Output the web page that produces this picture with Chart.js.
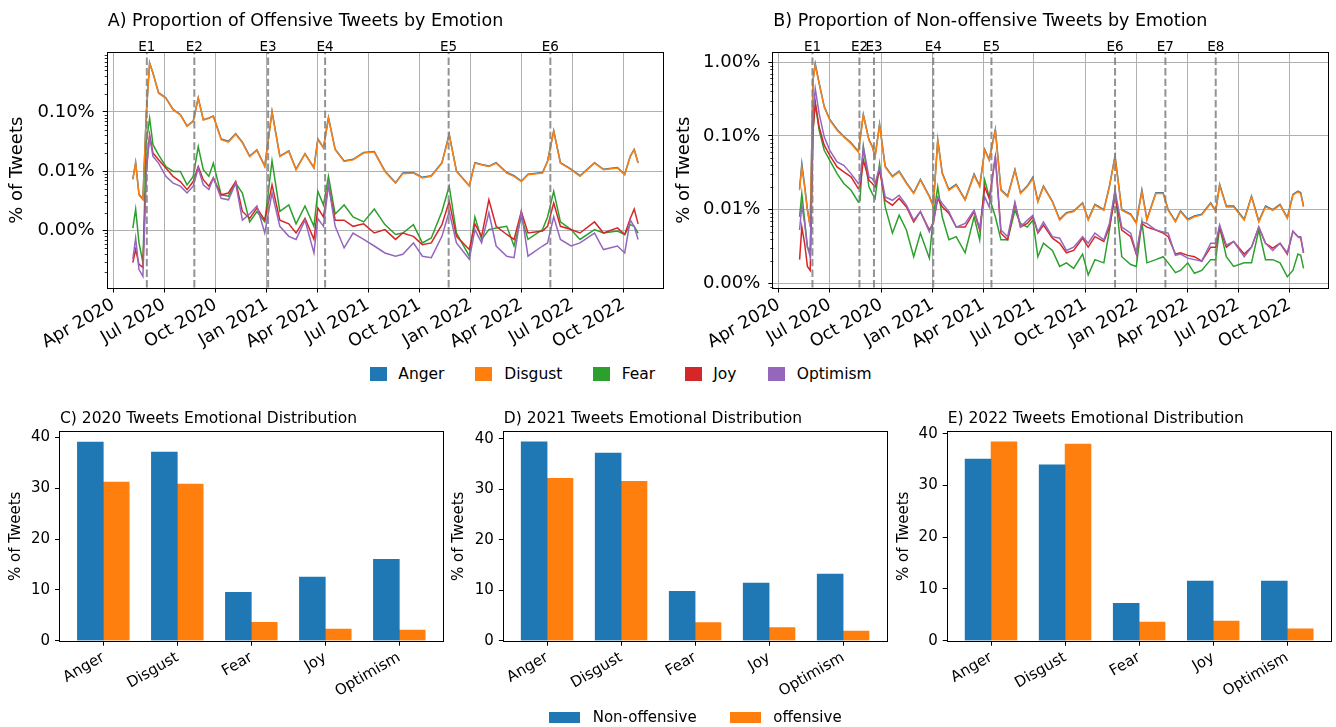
<!DOCTYPE html>
<html><head><meta charset="utf-8">
<script src="https://cdn.jsdelivr.net/npm/chart.js"></script>
<style>
html,body{margin:0;padding:0;background:#fff;}
#wrap{position:relative;width:1336px;height:727px;overflow:hidden;font-family:'DejaVu Sans',sans-serif;color:#000;background:#fff;}
canvas{position:absolute;left:0;}
.lt{position:absolute;white-space:nowrap;line-height:18px;}
.sw{position:absolute;}
</style></head><body>
<div id="wrap">
<canvas id="cA" width="1336" height="355" style="top:0px"></canvas>
<canvas id="cB" width="1336" height="355" style="top:0px"></canvas>
<canvas id="cC" width="1336" height="332" style="top:395px"></canvas>
<canvas id="cD" width="1336" height="332" style="top:395px"></canvas>
<canvas id="cE" width="1336" height="332" style="top:395px"></canvas>
<div id="legTop"></div>
<div id="legBot"></div>
</div>
<script>
// ---------- DATA ----------
const emotions = ['Anger', 'Disgust', 'Fear', 'Joy', 'Optimism'];
const emotionColors = ['#1f77b4', '#ff7f0e', '#2ca02c', '#d62728', '#9467bd'];

const xTickDates = ['2020-04-01','2020-07-01','2020-10-01','2021-01-01','2021-04-01','2021-07-01','2021-10-01','2022-01-01','2022-04-01','2022-07-01','2022-10-01'];
const xTickLabels = ['Apr 2020','Jul 2020','Oct 2020','Jan 2021','Apr 2021','Jul 2021','Oct 2021','Jan 2022','Apr 2022','Jul 2022','Oct 2022'];

const yTicksA = [0.001, 0.01, 0.1];
const yTickLabelsA = ['0.00%', '0.01%', '0.10%'];
const yTicksB = [0.001, 0.01, 0.1, 1];
const yTickLabelsB = ['0.00%', '0.01%', '0.10%', '1.00%'];

// Panel A: offensive tweets (% of tweets)
const datesA = ['2020-05-06','2020-05-11','2020-05-17','2020-05-24','2020-05-30','2020-06-05','2020-06-11','2020-06-21','2020-07-04','2020-07-17','2020-07-30','2020-08-11','2020-08-22','2020-08-31','2020-09-09','2020-09-19','2020-09-27','2020-10-11','2020-10-24','2020-11-06','2020-11-18','2020-12-01','2020-12-14','2020-12-28','2021-01-10','2021-01-24','2021-02-09','2021-02-22','2021-03-10','2021-03-26','2021-04-02','2021-04-12','2021-04-21','2021-05-03','2021-05-19','2021-06-04','2021-06-23','2021-07-12','2021-07-31','2021-08-19','2021-09-01','2021-09-20','2021-10-06','2021-10-22','2021-11-10','2021-11-23','2021-12-06','2021-12-29','2022-01-08','2022-01-20','2022-02-02','2022-02-15','2022-03-06','2022-03-19','2022-04-01','2022-04-13','2022-05-09','2022-05-18','2022-05-29','2022-06-10','2022-06-29','2022-07-15','2022-08-10','2022-08-26','2022-09-20','2022-10-03','2022-10-13','2022-10-20','2022-10-27'];
const angerOffA = [0.0074,0.0140,0.0041,0.0034,0.092,0.67,0.45,0.21,0.172,0.110,0.090,0.058,0.070,0.172,0.074,0.079,0.085,0.035,0.032,0.043,0.031,0.0180,0.0228,0.0122,0.102,0.0180,0.0220,0.0108,0.0198,0.0115,0.035,0.0249,0.080,0.0234,0.0149,0.0159,0.0206,0.0214,0.0101,0.0064,0.0093,0.0095,0.0079,0.0084,0.0139,0.042,0.0101,0.0057,0.0139,0.0130,0.0122,0.0139,0.0095,0.0084,0.0068,0.0089,0.0095,0.0149,0.048,0.0139,0.0108,0.0084,0.0139,0.0108,0.0115,0.0089,0.0180,0.0234,0.0139];
const disgustOffA = [0.0072,0.0137,0.0040,0.0033,0.09,0.66,0.447,0.206,0.170,0.108,0.089,0.057,0.069,0.170,0.073,0.078,0.084,0.034,0.031,0.042,0.030,0.0177,0.0224,0.0120,0.10,0.0177,0.0216,0.0106,0.0195,0.0113,0.034,0.0245,0.078,0.023,0.0146,0.0156,0.0202,0.021,0.0099,0.0063,0.0091,0.0093,0.0077,0.0082,0.0137,0.041,0.0099,0.0056,0.0137,0.0128,0.0120,0.0137,0.0093,0.0082,0.0067,0.0087,0.0093,0.0146,0.047,0.0137,0.0106,0.0082,0.0137,0.0106,0.0113,0.0087,0.0177,0.023,0.0137];
const fearOffA = [0.0011,0.0023,0.00062,0.00029,0.03,0.078,0.028,0.0189,0.0120,0.0099,0.0099,0.0059,0.0082,0.026,0.0106,0.0082,0.0137,0.0040,0.0038,0.0063,0.0043,0.0014,0.0021,0.0014,0.0150,0.0021,0.0027,0.0013,0.0026,0.00118,0.0046,0.0027,0.0082,0.0019,0.0027,0.0017,0.0014,0.0023,0.00126,0.00086,0.00091,0.00126,0.00062,0.00075,0.0021,0.0056,0.00091,0.00037,0.0017,0.00071,0.00104,0.00111,0.00118,0.00055,0.0017,0.00071,0.00104,0.0017,0.0046,0.0014,0.00104,0.00071,0.00104,0.00091,0.00098,0.00086,0.00126,0.00118,0.00091];
const joyOffA = [0.00029,0.00048,0.00027,0.00024,0.0106,0.041,0.0202,0.0156,0.0113,0.0082,0.0067,0.0049,0.0067,0.0120,0.0072,0.0056,0.0077,0.0040,0.0043,0.0067,0.0021,0.0016,0.0024,0.0015,0.0059,0.0015,0.0013,0.00091,0.0016,0.00071,0.0024,0.0017,0.0059,0.0015,0.0015,0.00118,0.0013,0.00091,0.00104,0.00071,0.00091,0.00080,0.00058,0.00062,0.00126,0.0031,0.00080,0.00048,0.0013,0.00080,0.0033,0.00118,0.00086,0.00071,0.0021,0.00091,0.00098,0.00118,0.0029,0.00118,0.00104,0.00091,0.0014,0.00091,0.00111,0.00086,0.0016,0.0023,0.0013];
const optimismOffA = [0.00033,0.00075,0.00022,0.00017,0.0093,0.0385,0.0177,0.0137,0.0082,0.0063,0.0056,0.0043,0.0056,0.0113,0.0059,0.0049,0.0077,0.0035,0.0033,0.0063,0.0015,0.0019,0.0026,0.00091,0.0043,0.00118,0.00080,0.00071,0.0015,0.00042,0.0016,0.00118,0.0059,0.00118,0.00051,0.00091,0.00071,0.00055,0.00042,0.00037,0.00040,0.00062,0.00037,0.00035,0.00080,0.0021,0.00062,0.00033,0.00104,0.00062,0.0020,0.00055,0.00037,0.00035,0.0021,0.00037,0.00055,0.00062,0.0017,0.00071,0.00055,0.00062,0.00091,0.00048,0.00055,0.00042,0.0015,0.00118,0.00071];
const eventDatesA = ['2020-05-31','2020-08-24','2021-01-03','2021-04-15','2021-11-22','2022-05-23'];
const eventLabelsA = ['E1','E2','E3','E4','E5','E6'];

// Panel B: non-offensive tweets (% of tweets)
const datesB = ['2020-05-08','2020-05-12','2020-05-17','2020-05-22','2020-05-27','2020-06-01','2020-06-05','2020-06-12','2020-06-21','2020-07-01','2020-07-14','2020-07-26','2020-08-08','2020-08-21','2020-08-24','2020-08-30','2020-09-09','2020-09-15','2020-09-20','2020-09-28','2020-10-08','2020-10-21','2020-11-02','2020-11-15','2020-11-28','2020-12-10','2020-12-26','2021-01-02','2021-01-10','2021-01-18','2021-01-30','2021-02-12','2021-02-28','2021-03-16','2021-03-26','2021-04-04','2021-04-12','2021-04-23','2021-05-03','2021-05-15','2021-05-28','2021-06-07','2021-06-19','2021-06-29','2021-07-08','2021-07-18','2021-08-03','2021-08-16','2021-08-28','2021-09-10','2021-09-26','2021-10-06','2021-10-18','2021-11-03','2021-11-13','2021-11-23','2021-12-05','2021-12-21','2021-12-31','2022-01-10','2022-01-19','2022-02-04','2022-02-17','2022-02-26','2022-03-11','2022-03-20','2022-04-02','2022-04-14','2022-04-27','2022-05-13','2022-05-22','2022-05-29','2022-06-10','2022-06-23','2022-07-12','2022-07-25','2022-08-07','2022-08-19','2022-09-01','2022-09-14','2022-09-27','2022-10-07','2022-10-16','2022-10-21','2022-10-26'];
const angerNonB = [0.0195,0.0420,0.0212,0.0101,0.0060,0.58,0.95,0.52,0.252,0.167,0.122,0.099,0.0805,0.0620,0.089,0.195,0.089,0.0725,0.0530,0.145,0.0388,0.0285,0.0333,0.0232,0.0169,0.0257,0.0153,0.0112,0.089,0.0316,0.0188,0.0220,0.0137,0.0305,0.0209,0.0655,0.0479,0.123,0.0188,0.0153,0.0350,0.0169,0.0209,0.0275,0.0130,0.0209,0.0130,0.0074,0.0091,0.0096,0.0124,0.0074,0.0118,0.0100,0.0209,0.0540,0.0100,0.0087,0.0067,0.0185,0.0074,0.0170,0.0169,0.0100,0.0070,0.0096,0.0074,0.0082,0.0087,0.0124,0.0096,0.0220,0.0112,0.0112,0.0074,0.0153,0.0070,0.0112,0.0100,0.0118,0.0078,0.0161,0.0178,0.0169,0.0112];
const disgustNonB = [0.0183,0.0379,0.0204,0.0098,0.0058,0.565,0.90,0.51,0.246,0.163,0.119,0.097,0.0785,0.0605,0.087,0.190,0.087,0.0708,0.0518,0.139,0.0379,0.0278,0.0325,0.0226,0.0165,0.0251,0.0149,0.0109,0.087,0.0308,0.0183,0.0215,0.0134,0.0293,0.0204,0.0638,0.0467,0.119,0.0183,0.0149,0.0342,0.0165,0.0204,0.0264,0.0127,0.0204,0.0127,0.0072,0.0089,0.0094,0.0121,0.0072,0.0115,0.0098,0.0204,0.0518,0.0098,0.0085,0.0065,0.0174,0.0072,0.0165,0.0165,0.0098,0.0068,0.0094,0.0072,0.0080,0.0085,0.0121,0.0094,0.0215,0.0109,0.0109,0.0072,0.0149,0.0068,0.0109,0.0098,0.0115,0.0076,0.0157,0.0174,0.0165,0.0109];
const fearNonB = [0.0080,0.0165,0.0072,0.0031,0.0028,0.119,0.273,0.119,0.0638,0.0467,0.0308,0.0226,0.0183,0.0127,0.0134,0.0708,0.0204,0.0165,0.0142,0.0421,0.0109,0.0048,0.0084,0.0053,0.0023,0.0048,0.0022,0.0080,0.0204,0.0080,0.0039,0.0043,0.0026,0.0080,0.0039,0.0251,0.0149,0.0080,0.0039,0.0039,0.0098,0.0065,0.0058,0.0072,0.0023,0.0035,0.0028,0.0017,0.0019,0.0016,0.0025,0.0013,0.0021,0.0019,0.0053,0.0183,0.0023,0.0018,0.0017,0.0069,0.0019,0.0021,0.0023,0.0019,0.0014,0.0015,0.0019,0.00137,0.0015,0.0021,0.0021,0.0058,0.0023,0.0017,0.0019,0.0019,0.0053,0.0021,0.0021,0.0019,0.00123,0.0015,0.0025,0.0024,0.0016];
const joyNonB = [0.0021,0.0058,0.0035,0.0017,0.0015,0.119,0.287,0.132,0.075,0.0546,0.0379,0.0325,0.0278,0.0193,0.0204,0.0467,0.0251,0.0226,0.0204,0.0342,0.0134,0.0115,0.0142,0.0109,0.0068,0.0094,0.0053,0.0065,0.0142,0.0109,0.0089,0.0058,0.0058,0.0094,0.0053,0.0204,0.0142,0.0518,0.0048,0.0039,0.0121,0.0058,0.0065,0.0080,0.0048,0.0062,0.0041,0.0035,0.0026,0.0028,0.0041,0.0031,0.0043,0.0037,0.0058,0.0149,0.0053,0.0043,0.0025,0.0065,0.0058,0.0053,0.0048,0.0043,0.0025,0.0026,0.0024,0.0023,0.0020,0.0031,0.0031,0.0058,0.0031,0.0037,0.0025,0.0031,0.0058,0.0035,0.0030,0.0035,0.0025,0.0051,0.0043,0.0041,0.0026];
const optimismNonB = [0.0053,0.0115,0.0065,0.0031,0.0023,0.200,0.436,0.200,0.097,0.0638,0.0444,0.0400,0.0308,0.0226,0.0238,0.0708,0.0278,0.0264,0.0226,0.0379,0.0149,0.0134,0.0157,0.0115,0.0072,0.0094,0.0050,0.0068,0.0149,0.0121,0.0094,0.0058,0.0065,0.0098,0.0056,0.0149,0.0109,0.0546,0.0053,0.0043,0.0127,0.0058,0.0072,0.0084,0.0050,0.0068,0.0043,0.0041,0.0028,0.0031,0.0043,0.0035,0.0048,0.0039,0.0065,0.0183,0.0058,0.0048,0.0026,0.0068,0.0065,0.0053,0.0050,0.0048,0.0024,0.0025,0.0022,0.0021,0.0020,0.0035,0.0035,0.0062,0.0033,0.0037,0.0023,0.0031,0.0058,0.0035,0.0028,0.0035,0.0026,0.0051,0.0043,0.0043,0.0026];
const eventDatesB = ['2020-05-31','2020-08-23','2020-09-18','2021-01-02','2021-04-16','2021-11-23','2022-02-21','2022-05-22'];
const eventLabelsB = ['E1','E2','E3','E4','E5','E6','E7','E8'];

// Panels C, D, E: yearly distribution (% of tweets)
const barTicks = [0, 10, 20, 30, 40];
const nonOffensive2020 = [39.1, 37.1, 9.5, 12.5, 16.0];
const offensive2020 = [31.2, 30.8, 3.6, 2.3, 2.1];
const nonOffensive2021 = [39.4, 37.2, 9.8, 11.4, 13.2];
const offensive2021 = [32.2, 31.6, 3.6, 2.6, 1.9];
const nonOffensive2022 = [35.1, 34.0, 7.2, 11.5, 11.5];
const offensive2022 = [38.4, 38.0, 3.6, 3.8, 2.3];
const groupLabels = ['Non-offensive', 'offensive'];
const groupColors = ['#1f77b4', '#ff7f0e'];

// ---------- RENDERING ----------
const FONT = "'DejaVu Sans', sans-serif";
const toDay = d => { const [y, m, dd] = d.split('-').map(Number); return Date.UTC(y, m - 1, dd) / 864e5; };
function isDecade(v) { const l = Math.log10(v); return Math.abs(l - Math.round(l)) < 1e-9; }

const decor = {
  id: 'decor',
  afterDatasetsDraw(chart, args, o) {
    if (!o.events) return;
    const {ctx, chartArea: a} = chart; const xs = chart.scales.x;
    ctx.save();
    o.events.forEach((d, i) => {
      const x = xs.getPixelForValue(toDay(d));
      ctx.setLineDash([7.4, 3.2]); ctx.lineWidth = 2; ctx.strokeStyle = 'rgba(128,128,128,0.85)';
      ctx.beginPath(); ctx.moveTo(x, a.bottom); ctx.lineTo(x, a.top); ctx.stroke();
      ctx.setLineDash([]);
      ctx.fillStyle = '#000'; ctx.font = '13.5px ' + FONT; ctx.textAlign = 'center'; ctx.textBaseline = 'alphabetic';
      ctx.fillText(o.eventLabels[i], x, a.top - 2);
    });
    ctx.restore();
  },
  afterDraw(chart, args, o) {
    const {ctx, chartArea: a} = chart;
    ctx.save();
    // minor tick marks (shorter) for log axes
    if (o.minor) {
      const ys = chart.scales.y;
      ctx.strokeStyle = '#000'; ctx.lineWidth = 0.8;
      ys.ticks.forEach(t => {
        if (isDecade(t.value)) return;
        const y = Math.round(ys.getPixelForValue(t.value)) + 0.5;
        ctx.beginPath(); ctx.moveTo(a.left - 3, y); ctx.lineTo(a.left, y); ctx.stroke();
      });
    }
    ctx.strokeStyle = '#000'; ctx.lineWidth = 1;
    ctx.strokeRect(Math.round(a.left) - 0.5, Math.round(a.top) - 0.5, Math.round(a.right - a.left) + 1, Math.round(a.bottom - a.top) + 1);
    ctx.fillStyle = '#000'; ctx.font = o.titleSize + 'px ' + FONT; ctx.textAlign = 'left'; ctx.textBaseline = 'alphabetic';
    ctx.fillText(o.title, a.left, a.top - o.titleGap);
    ctx.restore();
  }
};

function lineChart(id, title, dates, seriesVals, yMin, yMax, decTicks, decLabels, events, eventLabels, padLeft, yWidth, padRight) {
  const datasets = seriesVals.map((vals, i) => ({
    label: emotions[i],
    data: dates.map((d, j) => ({x: toDay(d), y: vals[j]})),
    borderColor: emotionColors[i], backgroundColor: emotionColors[i],
    borderWidth: 1.5, pointRadius: 0, tension: 0, fill: false, order: 10 - i
  }));
  return new Chart(document.getElementById(id), {
    type: 'line',
    data: {datasets},
    options: {
      responsive: false, animation: false, devicePixelRatio: 1,
      layout: {padding: {left: padLeft, top: 53, right: padRight, bottom: 0}},
      plugins: {legend: {display: false}, tooltip: {enabled: false},
        decor: {title, titleSize: 17.5, titleGap: 27, events, eventLabels, minor: true}},
      scales: {
        x: {
          type: 'linear', min: toDay('2020-03-22'), max: toDay('2022-12-10'),
          afterBuildTicks: s => { s.ticks = xTickDates.map(d => ({value: toDay(d)})); },
          ticks: {callback: (v, i) => xTickLabels[i], autoSkip: false, minRotation: 30, maxRotation: 30,
                  font: {family: FONT, size: 17.5}, color: '#000', padding: 2},
          grid: {color: '#b0b0b0', lineWidth: 1, tickColor: '#000', tickLength: 5},
          border: {display: false},
          afterFit: s => { s.height = 67.5; }
        },
        y: {
          type: 'logarithmic', min: yMin, max: yMax,
          afterBuildTicks: s => {
            const t = [];
            const e0 = Math.floor(Math.log10(yMin)), e1 = Math.ceil(Math.log10(yMax));
            for (let e = e0; e <= e1; e++) for (let k = 1; k <= 9; k++) {
              const v = k * Math.pow(10, e);
              if (v >= yMin && v <= yMax) t.push({value: v});
            }
            s.ticks = t;
          },
          ticks: {
            callback: v => { const i = decTicks.findIndex(d => Math.abs(d - v) / d < 1e-6); return i >= 0 ? decLabels[i] : ''; },
            autoSkip: false, font: {family: FONT, size: 18}, color: '#000', padding: 8
          },
          grid: {color: c => (c.tick && isDecade(c.tick.value)) ? '#b0b0b0' : 'rgba(0,0,0,0)', lineWidth: 1,
                 tickColor: c => (c.tick && isDecade(c.tick.value)) ? '#000' : 'rgba(0,0,0,0)', tickLength: 5},
          border: {display: false},
          title: {display: true, text: '% of Tweets', font: {family: FONT, size: 18}, color: '#000', padding: {top: 7, bottom: 0}},
          afterFit: s => { s.width = yWidth; }
        }
      }
    },
    plugins: [decor]
  });
}

function barChart(id, title, nonVals, offVals, yMax, padLeft, yWidth, padRight) {
  const BW = 25.9;
  const datasets = [nonVals, offVals].map((vals, g) => ({
    label: groupLabels[g],
    data: emotions.map((c, i) => ({x: i + (g === 0 ? -0.175 : 0.175), y: vals[i]})),
    backgroundColor: groupColors[g], borderWidth: 0, barThickness: BW, grouped: false
  }));
  return new Chart(document.getElementById(id), {
    type: 'bar',
    data: {datasets},
    options: {
      responsive: false, animation: false, devicePixelRatio: 1,
      layout: {padding: {left: padLeft, top: 37, right: padRight, bottom: 0}},
      plugins: {legend: {display: false}, tooltip: {enabled: false},
        decor: {title, titleSize: 15.5, titleGap: 9}},
      scales: {
        x: {
          type: 'linear', min: -0.585, max: 4.585, offset: false,
          afterBuildTicks: s => { s.ticks = emotions.map((c, i) => ({value: i})); },
          ticks: {callback: (v, i) => emotions[i], autoSkip: false, minRotation: 30, maxRotation: 30,
                  font: {family: FONT, size: 15}, color: '#000', padding: 3},
          grid: {display: true, offset: false, drawOnChartArea: false, tickColor: '#000', tickLength: 5},
          border: {display: false},
          afterFit: s => { s.height = 86.3; }
        },
        y: {
          min: 0, max: yMax,
          afterBuildTicks: s => { s.ticks = barTicks.map(v => ({value: v})); },
          ticks: {font: {family: FONT, size: 15}, color: '#000', padding: 5, autoSkip: false},
          grid: {display: true, offset: false, drawOnChartArea: false, tickColor: '#000', tickLength: 5},
          border: {display: false},
          title: {display: true, text: '% of Tweets', font: {family: FONT, size: 15}, color: '#000', padding: {top: 7, bottom: 0}},
          afterFit: s => { s.width = yWidth; }
        }
      }
    },
    plugins: [decor]
  });
}

lineChart('cA', 'A) Proportion of Offensive Tweets by Emotion', datesA,
  [angerOffA, disgustOffA, fearOffA, joyOffA, optimismOffA], 0.00011, 0.98,
  yTicksA, yTickLabelsA, eventDatesA, eventLabelsA, 0, 107.7, 673.3);
lineChart('cB', 'B) Proportion of Non-offensive Tweets by Emotion', datesB,
  [angerNonB, disgustNonB, fearNonB, joyNonB, optimismNonB], 0.00088, 1.33,
  yTicksB, yTickLabelsB, eventDatesB, eventLabelsB, 666.2, 107.1, 7.3);

barChart('cC', 'C) 2020 Tweets Emotional Distribution', nonOffensive2020, offensive2020, 41.06, 0, 60, 893.4);
barChart('cD', 'D) 2021 Tweets Emotional Distribution', nonOffensive2021, offensive2021, 41.37, 443, 60.8, 449.6);
barChart('cE', 'E) 2022 Tweets Emotional Distribution', nonOffensive2022, offensive2022, 40.32, 888, 59.7, 5.4);

// ---------- LEGENDS (HTML text) ----------
const topLeg = document.getElementById('legTop');
const topSw = [370, 475, 592.7, 685, 768.3];
const topTx = [398.3, 504.3, 621.7, 713.3, 796.7];
emotions.forEach((e, i) => {
  const s = document.createElement('div'); s.className = 'sw';
  s.style.cssText = `left:${topSw[i]}px;top:367px;width:17px;height:14px;background:${emotionColors[i]}`;
  topLeg.appendChild(s);
  const t = document.createElement('div'); t.className = 'lt'; t.textContent = e;
  t.style.cssText = `left:${topTx[i]}px;top:365px;font-size:15.5px`;
  topLeg.appendChild(t);
});
const botLeg = document.getElementById('legBot');
const botSw = [549, 730];
const botTx = [592.7, 773.3];
groupLabels.forEach((g, i) => {
  const s = document.createElement('div'); s.className = 'sw';
  s.style.cssText = `left:${botSw[i]}px;top:712px;width:31px;height:10.5px;background:${groupColors[i]}`;
  botLeg.appendChild(s);
  const t = document.createElement('div'); t.className = 'lt'; t.textContent = g;
  t.style.cssText = `left:${botTx[i]}px;top:708px;font-size:15px`;
  botLeg.appendChild(t);
});
</script>
</body></html>
